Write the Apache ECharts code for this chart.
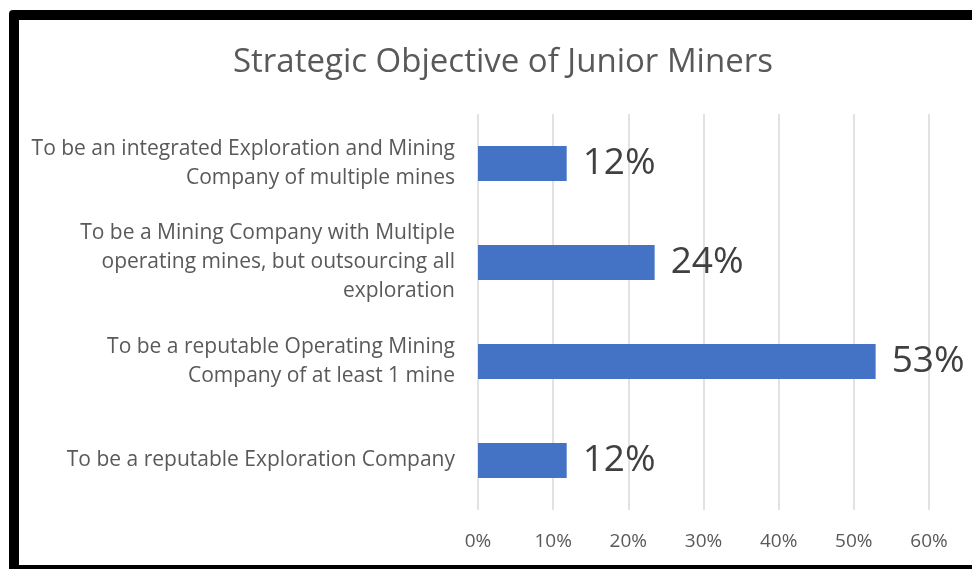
<!DOCTYPE html>
<html lang="en">

<head>
    <meta charset="UTF-8">
    <title>Strategic Objective of Junior Miners</title>
    <script src="https://cdn.jsdelivr.net/npm/echarts@6/dist/echarts.min.js"></script>
    <style>
        html, body {
            margin: 0;
            padding: 0;
            overflow: hidden;
            background: #fff;
        }

        #main {
            position: absolute;
            left: 0;
            top: 0;
            width: 972px;
            height: 569px;
        }

        /* thick black frame round the chart, right side runs off the picture */
        .frame {
            position: absolute;
            left: 9px;
            top: 10px;
            width: 1000px;
            height: 545px;
            border: 10px solid #000;
            border-radius: 4px;
            pointer-events: none;
        }
    </style>
</head>

<body>
    <div id="main"></div>
    <div class="frame"></div>
    <script>
        // categories, top to bottom
        const objectives = [
            "To be an integrated Exploration and Mining\nCompany of multiple mines",
            "To be a Mining Company with Multiple\noperating mines, but outsourcing all\nexploration",
            "To be a reputable Operating Mining\nCompany of at least 1 mine",
            "To be a reputable Exploration Company"
        ];
        // share of respondents, percent
        const shares = [11.8, 23.5, 52.9, 11.8];
        const xTicks = [0, 10, 20, 30, 40, 50, 60];

        const chart = echarts.init(document.getElementById('main'));
        const fontFamily = "'Open Sans', sans-serif";

        const option = {
            backgroundColor: '#fff',
            animation: false,
            title: {
                text: "Strategic Objective of Junior Miners",
                left: 228,
                top: 41,
                textStyle: {
                    fontFamily: fontFamily,
                    fontSize: 33,
                    fontWeight: 'normal',
                    color: '#595959'
                }
            },
            grid: {
                left: 478,
                right: 43,
                top: 114,
                height: 396
            },
            xAxis: {
                type: 'value',
                min: xTicks[0],
                max: xTicks[xTicks.length - 1],
                interval: xTicks[1] - xTicks[0],
                axisLine: { show: false },
                axisTick: { show: false },
                axisLabel: {
                    formatter: '{value}%',
                    margin: 22,
                    fontFamily: fontFamily,
                    fontSize: 19,
                    color: '#595959'
                },
                splitLine: {
                    lineStyle: { color: '#d9d9d9', width: 1.5 }
                }
            },
            yAxis: {
                type: 'category',
                inverse: true,
                data: objectives,
                axisLine: { show: false },
                axisTick: { show: false },
                axisLabel: {
                    margin: 23,
                    fontFamily: fontFamily,
                    fontSize: 21,
                    lineHeight: 29,
                    padding: [4, 0, 0, 0],
                    color: '#595959',
                    align: 'right'
                }
            },
            series: [
                {
                    type: 'bar',
                    data: shares,
                    barWidth: 35,
                    itemStyle: { color: '#4472c4' },
                    label: {
                        show: true,
                        position: 'right',
                        distance: 16,
                        formatter: (p) => Math.round(p.value) + '%',
                        fontFamily: fontFamily,
                        fontSize: 37,
                        color: '#404040'
                    }
                }
            ]
        };

        chart.setOption(option);
    </script>
</body>

</html>
